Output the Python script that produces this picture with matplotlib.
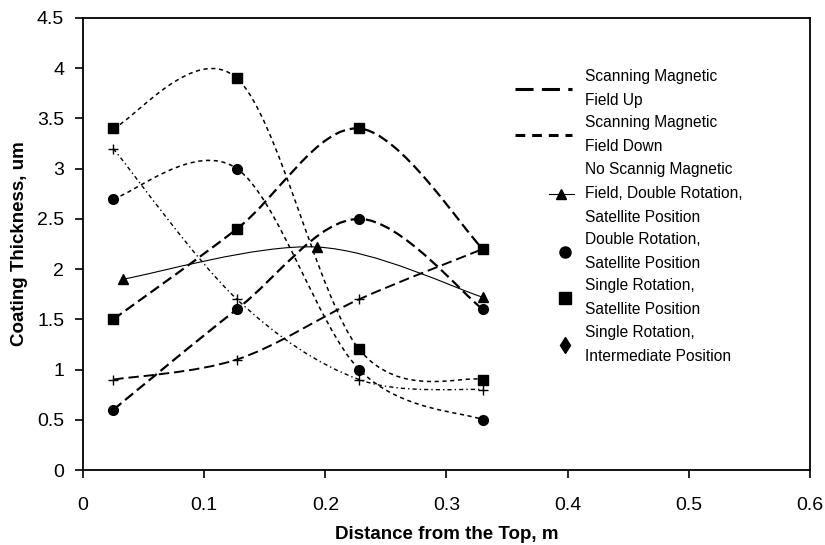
import numpy as np
import matplotlib
matplotlib.use("Agg")
import matplotlib.pyplot as plt
from matplotlib.path import Path
from matplotlib.patches import PathPatch
from matplotlib.lines import Line2D
from matplotlib.legend_handler import HandlerLine2D
from matplotlib.ticker import FuncFormatter

plt.rcParams['font.family'] = ['Liberation Sans', 'DejaVu Sans']
plt.rcParams['lines.scale_dashes'] = False

# positions along the chamber (m)
x_pos = [0.025, 0.127, 0.228, 0.33]
x_nofield = [0.033, 0.193, 0.33]

# field up (long dashes)
up_square = [1.5, 2.4, 3.4, 2.2]
up_circle = [0.6, 1.6, 2.5, 1.6]
up_plus = [0.9, 1.1, 1.7, 2.2]

# field down (short dashes)
down_square = [3.4, 3.9, 1.2, 0.9]
down_circle = [2.7, 3.0, 1.0, 0.5]
down_plus = [3.2, 1.7, 0.9, 0.8]

# no scanning field, double rotation, satellite
nofield_tri = [1.9, 2.22, 1.72]

legend_labels = ["Scanning Magnetic\nField Up",
                 "Scanning Magnetic\nField Down",
                 "No Scannig Magnetic\nField, Double Rotation,\nSatellite Position",
                 "Double Rotation,\nSatellite Position",
                 "Single Rotation,\nSatellite Position",
                 "Single Rotation,\nIntermediate Position"]


def smooth_path(xs, ys):
    # excel style smoothed line: cubic bezier, control points from neighbours / 6
    p = np.column_stack([xs, ys]).astype(float)
    n = len(p)
    verts = [p[0]]
    codes = [Path.MOVETO]
    for i in range(n - 1):
        prev = p[i - 1] if i > 0 else p[i]
        nxt = p[i + 2] if i + 2 < n else p[i + 1]
        c1 = p[i] + (p[i + 1] - prev) / 6.0
        c2 = p[i + 1] - (nxt - p[i]) / 6.0
        verts += [c1, c2, p[i + 1]]
        codes += [Path.CURVE4] * 3
    return Path(verts, codes)


def draw_series(ax, xs, ys, dashes, lw, marker, ms, mew=1.0):
    ls = '-' if dashes is None else (0, dashes)
    ax.add_patch(PathPatch(smooth_path(xs, ys), fill=False, edgecolor='black',
                           lw=lw, linestyle=ls, zorder=2))
    ax.plot(xs, ys, linestyle='none', marker=marker, ms=ms, mew=mew,
            color='black', zorder=3)


fig = plt.figure(figsize=(8.25, 5.45), dpi=100)
ax = fig.add_axes([0.1006, 0.1376, 0.8812, 0.8294])

long_dash = (7.5, 3.5)
short_dash = (3.0, 2.6)
dash_dot = (3.0, 2.2, 1.0, 2.2)

draw_series(ax, x_pos, up_square, long_dash, 1.6, 's', 7)
draw_series(ax, x_pos, up_circle, long_dash, 1.6, 'o', 7)
draw_series(ax, x_pos, up_plus, long_dash, 1.4, '+', 7)
draw_series(ax, x_pos, down_square, short_dash, 1.1, 's', 7)
draw_series(ax, x_pos, down_circle, short_dash, 1.1, 'o', 7)
draw_series(ax, x_pos, down_plus, dash_dot, 1.0, '+', 7)
draw_series(ax, x_nofield, nofield_tri, None, 0.8, '^', 7)

ax.set_xlim(0, 0.6)
ax.set_ylim(0, 4.5)
ax.set_xticks(np.arange(0, 0.61, 0.1))
ax.set_yticks(np.arange(0, 4.51, 0.5))
fmt = FuncFormatter(lambda v, p: '%g' % round(v, 2))
ax.xaxis.set_major_formatter(fmt)
ax.yaxis.set_major_formatter(fmt)
ax.tick_params(direction='out', length=5.5, width=1.2, labelsize=14)
ax.tick_params(axis='y', pad=8)
ax.tick_params(axis='x', pad=14)
for s in ax.spines.values():
    s.set_linewidth(1.3)

ax.set_xlabel("Distance from the Top, m", fontsize=13.5, fontweight='bold')
ax.set_ylabel("Coating Thickness, um", fontsize=13.5, fontweight='bold')
ax.xaxis.set_label_coords(0.5, -0.123)
ax.yaxis.set_label_coords(-0.076, 0.5)


class OffsetHandler(HandlerLine2D):
    # numpoints=1 puts the marker in the middle of the line span
    def __init__(self, line_span=(0.0, 1.0), **kw):
        super().__init__(**kw)
        self.line_span = line_span

    def get_xdata(self, legend, xdescent, ydescent, width, height, fontsize):
        xdata = np.array([self.line_span[0] * width, self.line_span[1] * width]) - xdescent
        return xdata, xdata


handles = [
    Line2D([], [], color='black', lw=2.2, dashes=(13, 6)),
    Line2D([], [], color='black', lw=2.2, dashes=(7, 5)),
    Line2D([], [], color='black', lw=0.8, marker='^', ms=7),
    Line2D([], [], color='black', linestyle='none', marker='o', ms=8),
    Line2D([], [], color='black', linestyle='none', marker='s', ms=8),
    Line2D([], [], color='black', linestyle='none', marker='d', ms=8),
]
handler_map = {
    handles[2]: OffsetHandler(line_span=(0.6, 1.02)),
    handles[3]: OffsetHandler(line_span=(0.76, 1.0)),
    handles[4]: OffsetHandler(line_span=(0.76, 1.0)),
    handles[5]: OffsetHandler(line_span=(0.76, 1.0)),
}
leg = ax.legend(handles, legend_labels, loc='upper left',
                bbox_to_anchor=(0.594, 0.887), frameon=False, fontsize=11.2,
                handlelength=3.7, handletextpad=0.8, borderpad=0,
                borderaxespad=0, labelspacing=0.47, handler_map=handler_map)
for t in leg.get_texts():
    t.set_linespacing(1.75)

fig.savefig("out.png", dpi=100)
